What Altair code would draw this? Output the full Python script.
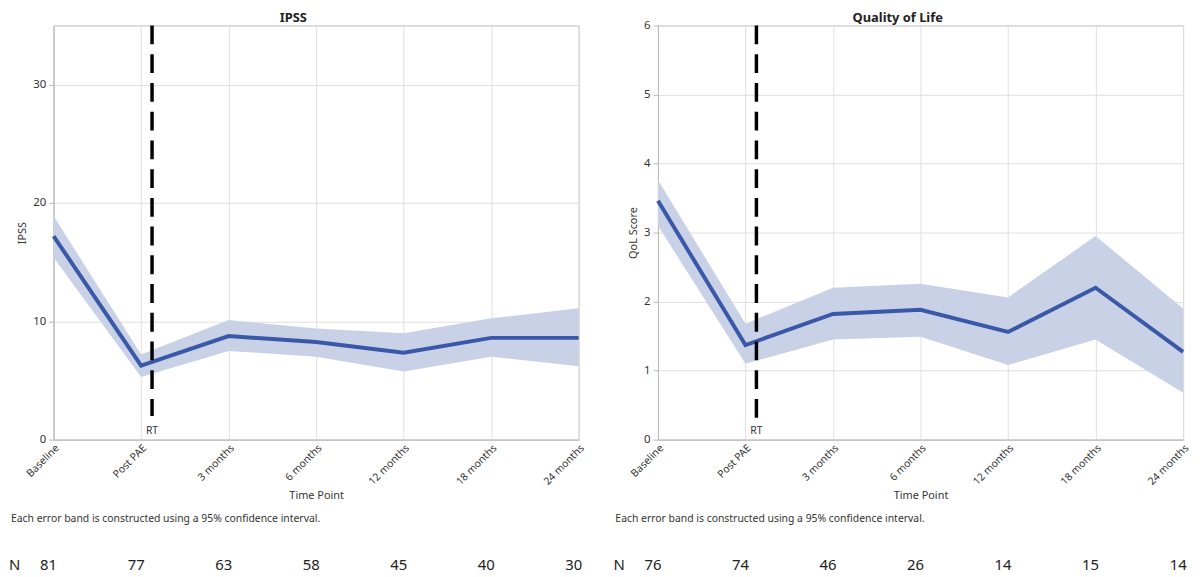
import altair as alt
import pandas as pd

time_points = ["Baseline", "Post PAE", "3 months", "6 months", "12 months", "18 months", "24 months"]

ipss_mean = [17.2, 6.25, 8.75, 8.25, 7.35, 8.6, 8.6]
ipss_lo = [15.4, 5.3, 7.5, 7.0, 5.75, 7.0, 6.2]
ipss_hi = [18.9, 7.2, 10.1, 9.4, 9.0, 10.25, 11.1]
ipss_n = [81, 77, 63, 58, 45, 40, 30]

qol_mean = [3.46, 1.37, 1.82, 1.88, 1.56, 2.2, 1.27]
qol_lo = [3.1, 1.10, 1.45, 1.49, 1.08, 1.45, 0.68]
qol_hi = [3.76, 1.68, 2.2, 2.26, 2.06, 2.95, 1.9]
qol_n = [76, 74, 46, 26, 14, 15, 14]

RT_X = 1.125
FOOTNOTE = "Each error band is constructed using a 95% confidence interval."

LINE = "#3a58a8"
BAND = "#c9d1e7"
GRID = "#e0e0e0"
FRAME = "#b8b8b8"
TXT = "#333333"
FONT = "Noto Sans"

W, H = 530, 418
N_Y = 545
FOOT_Y = 498
TITLE_X = 242
TITLE_Y = -8

label_expr = "[" + ",".join("'" + t + "'" for t in time_points) + "][datum.value]"


def panel(title, ytitle, ymax, yvals, mean, lo, hi, ns, rt_stop, rt_label):
    df = pd.DataFrame({"idx": list(range(len(time_points))), "mean": mean, "lo": lo, "hi": hi, "n": ns})
    xscale = alt.Scale(domain=[0, 6], nice=False, zero=False)
    xaxis = alt.Axis(values=list(range(7)), labelExpr=label_expr, labelAngle=-45, title="Time Point",
                     grid=True, ticks=False, labelPadding=3, titlePadding=3, labelFontSize=10.5)
    yscale = alt.Scale(domain=[0, ymax], nice=False, zero=True)
    yaxis = alt.Axis(values=yvals, title=ytitle, grid=True, tickSize=5, labelPadding=3, titlePadding=5,
                     labelFontSize=11.5)

    base = alt.Chart(df)
    band = base.mark_area(color=BAND, opacity=1).encode(
        x=alt.X("idx:Q", scale=xscale, axis=xaxis),
        y=alt.Y("lo:Q", scale=yscale, axis=yaxis),
        y2="hi:Q",
    )
    line = base.mark_line(color=LINE, strokeWidth=4).encode(
        x=alt.X("idx:Q", scale=xscale, axis=xaxis),
        y=alt.Y("mean:Q", scale=yscale, axis=yaxis),
    )
    rt_df = pd.DataFrame({"x": [RT_X], "top": [ymax], "stop": [rt_stop], "ly": [rt_label], "t": ["RT"]})
    rule = alt.Chart(rt_df).mark_rule(color="black", strokeWidth=3.5, strokeDash=[19, 10]).encode(
        x=alt.X("x:Q", scale=xscale, axis=xaxis),
        y=alt.Y("top:Q", scale=yscale, axis=yaxis),
        y2="stop:Q",
    )
    rtt = alt.Chart(rt_df).mark_text(fontSize=10.5, color=TXT).encode(
        x=alt.X("x:Q", scale=xscale, axis=xaxis),
        y=alt.Y("ly:Q", scale=yscale, axis=yaxis),
        text="t:N",
    )
    ntext = base.mark_text(fontSize=15, dx=-5, color="#222222").encode(
        x=alt.X("idx:Q", scale=xscale, axis=xaxis),
        y=alt.value(N_Y),
        text="n:Q",
    )
    nlab = alt.Chart(pd.DataFrame({"t": ["N"]})).mark_text(fontSize=15, align="left", color="#222222").encode(
        x=alt.value(-45), y=alt.value(N_Y), text="t:N"
    )
    foot = alt.Chart(pd.DataFrame({"t": [FOOTNOTE]})).mark_text(fontSize=10.5, align="left", color=TXT).encode(
        x=alt.value(-43), y=alt.value(FOOT_Y), text="t:N"
    )
    ttl = alt.Chart(pd.DataFrame({"t": [title]})).mark_text(fontSize=13, fontWeight="bold", color="#222222").encode(
        x=alt.value(TITLE_X), y=alt.value(TITLE_Y), text="t:N"
    )
    return alt.layer(band, line, rule, rtt, ntext, nlab, foot, ttl).properties(width=W, height=H)


left = panel("IPSS", "IPSS", 35, [0, 10, 20, 30], ipss_mean, ipss_lo, ipss_hi, ipss_n, 2.0, 0.75)
right = panel("Quality of Life", "QoL Score", 6, [0, 1, 2, 3, 4, 5, 6], qol_mean, qol_lo, qol_hi, qol_n, 0.3, 0.13)

chart = alt.hconcat(left, right, spacing=80, bounds="flush").properties(
    padding={"left": 0, "top": 0, "right": 0, "bottom": 0}
).configure_view(
    stroke=FRAME, strokeWidth=1
).configure_axis(
    labelFont=FONT, titleFont=FONT, titleFontSize=11, titleFontWeight="normal",
    labelColor=TXT, titleColor=TXT, gridColor=GRID, domainColor=FRAME, tickColor=FRAME,
).configure_text(font=FONT)

chart.save("out.html", embed_options={"renderer": "svg", "actions": False})
